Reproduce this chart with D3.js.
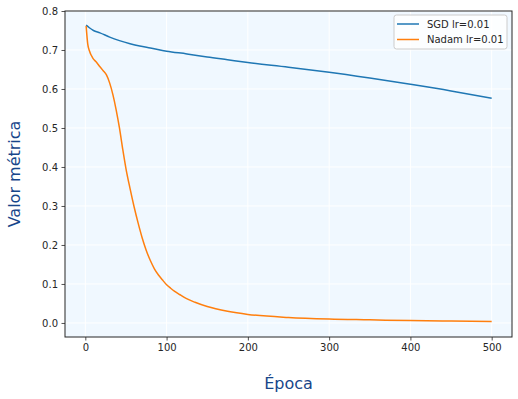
<!DOCTYPE html>
<html>
<head>
<meta charset="utf-8">
<script src="https://cdn.jsdelivr.net/npm/d3@7"></script>
<style>
  body { margin: 0; background: #fff; }
  svg { display: block; font-family: 'DejaVu Sans', sans-serif; }
  .tick text { font-size: 10px; fill: #262626; }
</style>
</head>
<body>
<svg id="chart" width="518" height="399"></svg>
<script>
// values
var sgdEpochs = [1, 5, 10, 18, 30, 42, 55, 67, 80, 100, 125, 150, 175, 200, 250, 300, 350, 400, 450, 500];
var sgdValues = [0.764, 0.757, 0.750, 0.744, 0.733, 0.724, 0.716, 0.710, 0.705, 0.697, 0.690, 0.682, 0.675, 0.668, 0.656, 0.643, 0.628, 0.612, 0.595, 0.576];

var nadamEpochs = [1, 3, 5, 9, 14, 18, 22, 26, 30, 34, 38, 42, 46, 50, 55, 60, 65, 70, 75, 80, 85, 90, 95, 100, 105, 110, 116, 124, 135, 150, 175, 200, 250, 300, 350, 400, 450, 500];
var nadamValues = [0.762, 0.715, 0.698, 0.680, 0.668, 0.657, 0.647, 0.636, 0.615, 0.585, 0.546, 0.500, 0.446, 0.396, 0.345, 0.298, 0.256, 0.218, 0.186, 0.160, 0.139, 0.123, 0.110, 0.098, 0.089, 0.081, 0.073, 0.063, 0.053, 0.042, 0.030, 0.022, 0.014, 0.010, 0.008, 0.006, 0.005, 0.004];

var xTicks = [0, 100, 200, 300, 400, 500];
var yTicks = [0.0, 0.1, 0.2, 0.3, 0.4, 0.5, 0.6, 0.7, 0.8];

var seriesNames = ['SGD lr=0.01', 'Nadam lr=0.01'];
var seriesColors = ['#1f77b4', '#ff7f0e'];

var svg = d3.select('svg#chart');

var mLeft = 65, mRight = 512, mTop = 11, mBottom = 337;

var x = d3.scaleLinear().domain([-25, 525]).range([mLeft, mRight]);
var y = d3.scaleLinear().domain([-0.036, 0.8]).range([mBottom, mTop]);

svg.append('rect')
    .attr('x', mLeft).attr('y', mTop)
    .attr('width', mRight - mLeft).attr('height', mBottom - mTop)
    .attr('fill', '#f0f8ff');

// grid
var grid = svg.append('g').attr('class', 'grid');
grid.selectAll('line.gx')
    .data(xTicks)
    .enter().append('line')
    .attr('class', 'gx')
    .attr('x1', function (d) { return x(d); })
    .attr('x2', function (d) { return x(d); })
    .attr('y1', mTop).attr('y2', mBottom)
    .attr('stroke', '#fff').attr('stroke-width', 1);
grid.selectAll('line.gy')
    .data(yTicks)
    .enter().append('line')
    .attr('class', 'gy')
    .attr('y1', function (d) { return y(d); })
    .attr('y2', function (d) { return y(d); })
    .attr('x1', mLeft).attr('x2', mRight)
    .attr('stroke', '#fff').attr('stroke-width', 1);

// lines
var line = d3.line()
    .x(function (d) { return x(d[0]); })
    .y(function (d) { return y(d[1]); })
    .curve(d3.curveMonotoneX);

var sgd = sgdEpochs.map(function (e, i) { return [e, sgdValues[i]]; });
var nadam = nadamEpochs.map(function (e, i) { return [e, nadamValues[i]]; });

var chart = svg.append('g').attr('class', 'lines');
[sgd, nadam].forEach(function (data, i) {
    chart.append('path')
        .datum(data)
        .attr('fill', 'none')
        .attr('stroke', seriesColors[i])
        .attr('stroke-width', 1.5)
        .attr('d', line);
});

// axes
var xAxis = svg.append('g')
    .attr('transform', 'translate(0,' + mBottom + ')')
    .call(d3.axisBottom(x).tickValues(xTicks).tickSize(3.5).tickPadding(3.5).tickFormat(d3.format('d')));
var yAxis = svg.append('g')
    .attr('transform', 'translate(' + mLeft + ',0)')
    .call(d3.axisLeft(y).tickValues(yTicks).tickSize(3.5).tickPadding(3.5).tickFormat(d3.format('.1f')));

[xAxis, yAxis].forEach(function (a) {
    a.select('.domain').remove();
    a.selectAll('.tick line').attr('stroke', '#262626').attr('stroke-width', 0.8);
    a.selectAll('.tick text').attr('font-family', 'DejaVu Sans').attr('font-size', 10);
});

// spines
svg.append('rect')
    .attr('x', mLeft).attr('y', mTop)
    .attr('width', mRight - mLeft).attr('height', mBottom - mTop)
    .attr('fill', 'none')
    .attr('stroke', '#262626').attr('stroke-width', 1);

// axis labels
svg.append('text')
    .attr('x', (mLeft + mRight) / 2).attr('y', 389)
    .attr('text-anchor', 'middle')
    .attr('font-size', 16)
    .attr('fill', '#17468a')
    .text('Época');

svg.append('text')
    .attr('transform', 'translate(20,' + ((mTop + mBottom) / 2) + ') rotate(-90)')
    .attr('text-anchor', 'middle')
    .attr('font-size', 16)
    .attr('fill', '#17468a')
    .text('Valor métrica');

// legend
var legend = svg.append('g').attr('class', 'legend');
legend.append('rect')
    .attr('x', 394).attr('y', 15)
    .attr('width', 113).attr('height', 34)
    .attr('rx', 2.5)
    .attr('fill', 'rgba(255,255,255,0.8)')
    .attr('stroke', '#cccccc').attr('stroke-width', 1);

seriesNames.forEach(function (name, i) {
    var ly = 24 + i * 15.5;
    legend.append('line')
        .attr('x1', 397).attr('x2', 419)
        .attr('y1', ly).attr('y2', ly)
        .attr('stroke', seriesColors[i]).attr('stroke-width', 1.5);
    legend.append('text')
        .attr('x', 427).attr('y', ly + 3.5)
        .attr('font-size', 10)
        .attr('fill', '#262626')
        .text(name);
});
</script>
</body>
</html>
